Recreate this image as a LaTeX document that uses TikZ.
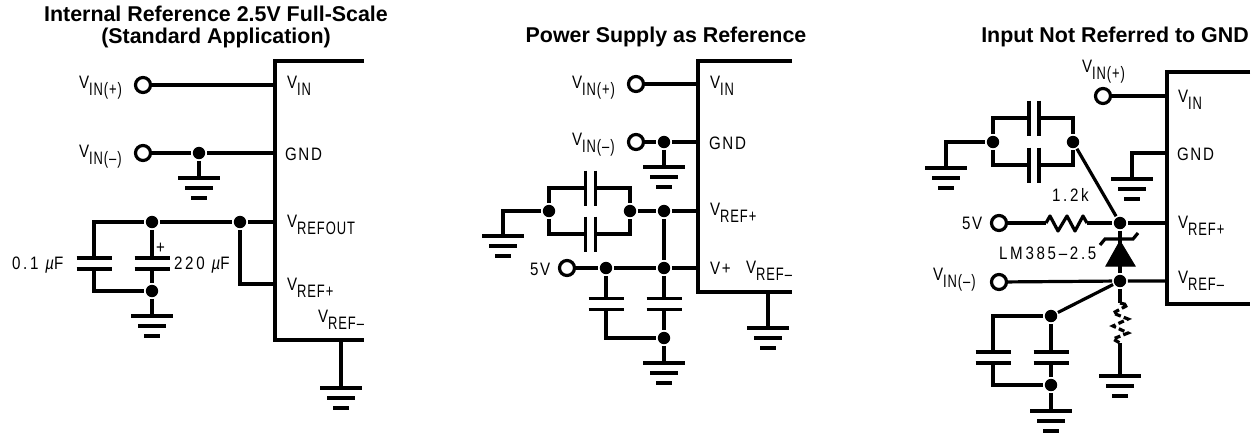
\documentclass[tikz,border=0pt]{standalone}
\usepackage{fontspec}
\setmainfont{Liberation Sans}
\newfontfamily\pinfont[LetterSpace=9,FakeStretch=0.84]{Liberation Sans}
\newfontfamily\subfont[LetterSpace=5,FakeStretch=0.72]{Liberation Sans}
\newfontfamily\numfont[LetterSpace=15,FakeStretch=0.84]{Liberation Sans}
\usetikzlibrary{arrows.meta, positioning, calc}
\newcommand{\vsub}[1]{V\raisebox{-3.5pt}{\subfont #1}}

\begin{document}
\begin{tikzpicture}[
		x=0.5pt, y=-0.5pt,
		line width=1.6pt, black, line join=miter,
		dot/.style={circle, fill=black, draw=none, inner sep=0pt, minimum size=6.2pt},
		term/.style={circle, fill=white, draw=black, inner sep=0pt, minimum size=7.5pt},
		pin/.style={inner sep=0pt, anchor=base west, xshift=-0.75pt, font=\pinfont\fontsize{9}{9}\selectfont},
		num/.style={inner sep=0pt, anchor=base west, xshift=-0.75pt, font=\numfont\fontsize{9}{9}\selectfont},
		title/.style={inner sep=0pt, align=center, font=\bfseries\fontsize{10.7}{10.6}\selectfont},
		chip/.style={line width=2.3pt},
		pics/ground/.style={code={
			\coordinate (-t) at (0,0);
			\foreach \y/\w in {0/21, 10/14, 20/8}
				\draw (-\w,\y) -- (\w,\y);
		}},
		pics/capv/.style={code={
			\coordinate (-t) at (0,-5.5);
			\coordinate (-b) at (0,5.5);
			\draw (-17.5,-5.5) -- (17.5,-5.5);
			\draw (-17.5,5.5) -- (17.5,5.5);
		}},
		pics/caph/.style={code={
			\coordinate (-l) at (-5,0);
			\coordinate (-r) at (5,0);
			\draw (-5,-17.5) -- (-5,17.5);
			\draw (5,-17.5) -- (5,17.5);
		}}
		]
		
		\useasboundingbox (0,0) rectangle (1254,435);
		
		% Internal reference
		\node[title] at (216,27) (titleA) {Internal Reference 2.5V Full-Scale\\(Standard Application)};
		\draw[chip] (364,61) -- (275,61) -- (275,340) -- (364,340);
		\coordinate (pinAin) at (275,85);
		\coordinate (pinAgnd) at (275,153);
		\coordinate (pinAout) at (275,222);
		\coordinate (pinAref) at (275,284);
		\coordinate (pinAneg) at (341,340);
		\node[term] at (143,85) (termAp) {};
		\node[term] at (143,153) (termAn) {};
		\node[dot] at (199,153) (dotAgnd) {};
		\node[dot] at (152,222) (dotAcap) {};
		\node[dot] at (240,222) (dotAref) {};
		\node[dot] at (152,291) (dotAlow) {};
		\coordinate (cornerAl) at (94,222);
		\coordinate (cornerAb) at (94,291);
		\pic (capAa) at (94,263.5) {capv};
		\pic (capAb) at (152,263.5) {capv};
		\pic (gndAa) at (199,178) {ground};
		\pic (gndAb) at (152,316) {ground};
		\pic (gndAc) at (341,388) {ground};
		\draw (termAp) -- (pinAin);
		\draw (termAn) -- (dotAgnd) -- (pinAgnd);
		\draw (dotAgnd) -- (gndAa-t);
		\draw (capAa-t) -- (cornerAl) -- (dotAcap) -- (dotAref) -- (pinAout);
		\draw (dotAcap) -- (capAb-t);
		\draw (capAb-b) -- (dotAlow) -- (gndAb-t);
		\draw (capAa-b) -- (cornerAb) -- (dotAlow);
		\draw (dotAref) |- (pinAref);
		\draw (pinAneg) -- (gndAc-t);
		\node[pin] at (79,88) (lblAp) {\vsub{IN(+)}};
		\node[pin] at (79,157) (lblAn) {\vsub{IN(–)}};
		\node[pin] at (287,88) (lblAin) {\vsub{IN}};
		\node[pin] at (285,160) (lblAgnd) {GND};
		\node[pin] at (287,227) (lblAout) {\vsub{REFOUT}};
		\node[pin] at (287,290) (lblAref) {\vsub{REF+}};
		\node[pin] at (318,322) (lblAneg) {\vsub{REF–}};
		\node[num] at (12,269) (lblAa) {0.1 {\itshape µ}F};
		\node[num] at (174,269) (lblAb) {220 {\itshape µ}F};
		\node[pin] at (156,253) (lblAplus) {+};
		
		% Power supply
		\node[title] at (666,37) (titleB) {Power Supply as Reference};
		\draw[chip] (792,61) -- (698,61) -- (698,292) -- (792,292);
		\coordinate (pinBin) at (698,84);
		\coordinate (pinBgnd) at (698,142);
		\coordinate (pinBref) at (698,211);
		\coordinate (pinBv) at (698,268);
		\coordinate (pinBneg) at (768,292);
		\node[term] at (636,84) (termBp) {};
		\node[term] at (636,142) (termBn) {};
		\node[term] at (567,268) (termBv) {};
		\node[dot] at (664,142) (dotBgnd) {};
		\node[dot] at (549,211) (dotBl) {};
		\node[dot] at (630,211) (dotBr) {};
		\node[dot] at (664,211) (dotBref) {};
		\node[dot] at (606,268) (dotBa) {};
		\node[dot] at (664,268) (dotBv) {};
		\node[dot] at (664,338) (dotBlow) {};
		\pic (capBa) at (590.5,188) {caph};
		\pic (capBb) at (590.5,234) {caph};
		\pic (capBc) at (606,304) {capv};
		\pic (capBd) at (664,304) {capv};
		\pic (gndBa) at (664,167) {ground};
		\pic (gndBb) at (503,236) {ground};
		\pic (gndBc) at (664,363) {ground};
		\pic (gndBd) at (768,328) {ground};
		\draw (termBp) -- (pinBin);
		\draw (termBn) -- (dotBgnd) -- (pinBgnd);
		\draw (dotBgnd) -- (gndBa-t);
		\draw (dotBl) -- (dotBl |- capBa-l) -- (capBa-l);
		\draw (capBa-r) -| (dotBr);
		\draw (dotBl) -- (dotBl |- capBb-l) -- (capBb-l);
		\draw (capBb-r) -| (dotBr);
		\draw (gndBb-t) |- (dotBl);
		\draw (dotBr) -- (dotBref) -- (pinBref);
		\draw (dotBref) -- (dotBv);
		\draw (termBv) -- (dotBa) -- (dotBv) -- (pinBv);
		\draw (dotBa) -- (capBc-t);
		\draw (dotBv) -- (capBd-t);
		\draw (capBc-b) |- (dotBlow);
		\draw (capBd-b) -- (dotBlow) -- (gndBc-t);
		\draw (pinBneg) -- (gndBd-t);
		\node[pin] at (572,88) (lblBp) {\vsub{IN(+)}};
		\node[pin] at (572,145) (lblBn) {\vsub{IN(–)}};
		\node[pin] at (530,275) (lblBv) {5V};
		\node[pin] at (710,88) (lblBin) {\vsub{IN}};
		\node[pin] at (709,149) (lblBgnd) {GND};
		\node[pin] at (710,215) (lblBref) {\vsub{REF+}};
		\node[pin] at (710,274) (lblBvp) {V+};
		\node[pin] at (746,273) (lblBneg) {\vsub{REF–}};
		
		% Input not referred
		\node[title] at (1115,37) (titleC) {Input Not Referred to GND};
		\draw[chip] (1250,72) -- (1167,72) -- (1167,304) -- (1250,304);
		\coordinate (pinCin) at (1167,96);
		\coordinate (pinCgnd) at (1167,153);
		\coordinate (pinCref) at (1167,223);
		\coordinate (pinCneg) at (1167,281);
		\node[term] at (1103,96) (termCp) {};
		\node[term] at (999,223) (termCv) {};
		\node[term] at (999,282) (termCn) {};
		\node[dot] at (993,142) (dotCl) {};
		\node[dot] at (1073,142) (dotCr) {};
		\node[dot] at (1120,223) (dotCref) {};
		\node[dot] at (1120,281) (dotCneg) {};
		\node[dot] at (1051,316) (dotCcap) {};
		\node[dot] at (1051,385) (dotClow) {};
		\pic (capCa) at (1034,118) {caph};
		\pic (capCb) at (1034,165) {caph};
		\pic (capCc) at (993,357.5) {capv};
		\pic (capCd) at (1051,357.5) {capv};
		\pic (gndCa) at (1132,179) {ground};
		\pic (gndCb) at (946,168) {ground};
		\pic (gndCc) at (1051,411) {ground};
		\pic (gndCd) at (1120,376) {ground};
		\coordinate (resLa) at (1046,223);
		\coordinate (resLb) at (1087,223);
		\coordinate (resDa) at (1120,303);
		\coordinate (resDb) at (1120,343);
		\draw (termCp) -- (pinCin);
		\draw (gndCa-t) |- (pinCgnd);
		\draw (gndCb-t) |- (dotCl);
		\draw (dotCl) -- (dotCl |- capCa-l) -- (capCa-l);
		\draw (capCa-r) -| (dotCr);
		\draw (dotCl) -- (dotCl |- capCb-l) -- (capCb-l);
		\draw (capCb-r) -| (dotCr);
		\draw (dotCr) -- (dotCref);
		\draw (termCv) -- (resLa);
		\draw[line join=round] (resLa) -- ++(4,-7) -- ++(8,15) -- ++(9,-15) -- ++(8,15) -- ++(8,-15) -- (resLb);
		\draw (resLb) -- (dotCref) -- (pinCref);
		\draw (termCn) -- (dotCneg) -- (pinCneg);
		\draw (dotCref) -- (dotCneg);
		\draw (dotCneg) -- (dotCcap);
		\draw[fill=black, line width=0.5pt] (1106,266) -- (1135,266) -- (1120,241) -- cycle;
		\draw (1100,245) -- (1105,239) -- (1133,239) -- (1138,233);
		\draw (dotCcap) -- (capCd-t);
		\draw (dotCcap) -| (capCc-t);
		\draw (capCc-b) |- (dotClow);
		\draw (capCd-b) -- (dotClow) -- (gndCc-t);
		\draw (dotCneg) -- (resDa);
		\draw[dash pattern=on 3pt off 1.6pt] (resDa) -- ++(8,2) -- ++(-15,8) -- ++(15,6) -- ++(-15,7) -- ++(15,7) -- ++(-15,6) -- (resDb);
		\draw (resDb) -- (gndCd-t);
		\node[pin] at (1082,72) (lblCp) {\vsub{IN(+)}};
		\node[pin] at (933,280) (lblCn) {\vsub{IN(–)}};
		\node[pin] at (962,229) (lblCv) {5V};
		\node[num] at (1052,201) (lblCr) {1.2k};
		\node[num] at (999,259) (lblCz) {LM385–2.5};
		\node[pin] at (1178,102) (lblCin) {\vsub{IN}};
		\node[pin] at (1177,160) (lblCgnd) {GND};
		\node[pin] at (1178,228) (lblCref) {\vsub{REF+}};
		\node[pin] at (1178,283) (lblCneg) {\vsub{REF–}};
		
	\end{tikzpicture}
\end{document}
